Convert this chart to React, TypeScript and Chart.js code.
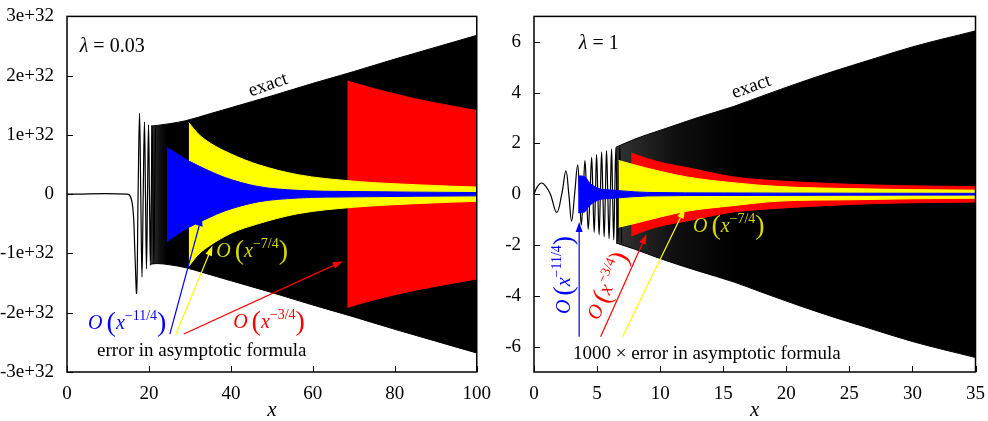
import React, { useEffect, useRef } from "react";
import { Chart, registerables } from "chart.js";
Chart.register(...registerables);

const SERIF = '"Liberation Serif", "Times New Roman", serif';
const E32 = 1e32;

// ---------------- Left panel (lambda = 0.03), y values in units of 1e32 ----------------
const leftXTicks = [0, 20, 40, 60, 80, 100];
const leftYTicks = [-3, -2, -1, 0, 1, 2, 3];
const leftYTickLabels = ["-3e+32", "-2e+32", "-1e+32", "0", "1e+32", "2e+32", "3e+32"];

const leftEarlyX = [0, 14.7, 15.6, 16.2, 16.55, 17.0, 17.35, 17.7, 18.0, 18.3, 18.6, 18.9, 19.15, 19.4, 19.65, 19.9, 20.12, 20.35, 20.57, 20.8, 21.0, 21.2, 21.4, 21.6];
const leftEarlyY = [0, 0, -0.06, -0.34, -0.95, -1.66, 0, 1.37, 0, -1.4, 0, 1.22, 0, -1.26, 0, 1.17, 0, -1.2, 0, 1.14, 0, -1.17, 0, 1.13];

const leftExactX = [20.5, 22, 25, 29, 35, 40, 50, 60, 70, 80, 90, 100];
const leftExactUpper = [1.15, 1.16, 1.19, 1.24, 1.36, 1.46, 1.66, 1.87, 2.07, 2.28, 2.48, 2.68];
const leftExactLower = [-1.18, -1.17, -1.19, -1.24, -1.36, -1.46, -1.66, -1.87, -2.07, -2.28, -2.48, -2.68];

const leftRedX = [68.4, 75, 85, 100];
const leftRedUpper = [1.91, 1.78, 1.61, 1.41];
const leftRedLower = [-1.91, -1.78, -1.62, -1.43];

const leftYellowX = [29.7, 32, 35, 40, 46.6, 56.3, 70, 85, 100];
const leftYellowUpper = [1.21, 1.02, 0.86, 0.68, 0.5, 0.33, 0.22, 0.16, 0.12];
const leftYellowLower = [-1.22, -1.02, -0.86, -0.66, -0.5, -0.33, -0.22, -0.16, -0.12];

const leftBlueX = [24.4, 26, 28, 30, 34.5, 38.6, 46.6, 56.3, 70, 85, 100];
const leftBlueUpper = [0.79, 0.72, 0.63, 0.55, 0.4, 0.28, 0.13, 0.065, 0.045, 0.035, 0.028];
const leftBlueLower = [-0.8, -0.72, -0.63, -0.55, -0.4, -0.28, -0.13, -0.065, -0.045, -0.035, -0.028];

// ---------------- Right panel (lambda = 1) ----------------
const rightXTicks = [0, 5, 10, 15, 20, 25, 30, 35];
const rightYTicks = [-6, -4, -2, 0, 2, 4, 6];
const rightYTickLabels = ["-6", "-4", "-2", "0", "2", "4", "6"];

const rightEarlyX = [0, 0.25, 0.6, 0.95, 1.3, 1.8, 2.2, 2.53, 2.76, 2.98, 3.22, 3.46, 3.61, 3.75, 3.9, 4.04, 4.17, 4.3, 4.44, 4.57, 4.67, 4.77, 4.87, 4.96, 5.06, 5.16, 5.26, 5.36, 5.46, 5.56, 5.66, 5.75, 5.85, 5.95, 6.05, 6.15, 6.23, 6.32, 6.4, 6.49, 6.57, 6.65, 6.72, 6.8, 6.88, 6.95];
const rightEarlyY = [0, 0.28, 0.44, 0.3, 0, -0.72, 0, 0.92, 0, -1.06, 0, 1.16, 0, -1.22, 0, 1.32, 0, -1.38, 0, 1.45, 0, -1.5, 0, 1.56, 0, -1.6, 0, 1.66, 0, -1.68, 0, 1.72, 0, -1.75, 0, 1.78, 0, -1.8, 0, 1.84, 0, -1.86, 0, 1.9, 0, -1.92];

const rightExactX = [6.5, 7.9, 9, 10.5, 13, 15.8, 18, 21.1, 24, 26.4, 30, 35];
const rightExactUpper = [1.85, 2.15, 2.35, 2.6, 3.02, 3.45, 3.85, 4.4, 4.88, 5.25, 5.8, 6.43];
const rightExactLower = [-1.92, -2.15, -2.35, -2.62, -3.02, -3.45, -3.85, -4.4, -4.88, -5.25, -5.8, -6.43];

const rightRedX = [7.7, 9, 10.5, 12.1, 14, 15.8, 19.5, 23, 27, 31, 35];
const rightRedUpper = [1.62, 1.4, 1.2, 1.05, 0.85, 0.68, 0.52, 0.43, 0.36, 0.32, 0.3];
const rightRedLower = [-1.65, -1.4, -1.2, -1.06, -0.86, -0.7, -0.55, -0.45, -0.37, -0.33, -0.31];

const rightYellowX = [6.7, 8, 10, 12.1, 15.8, 19.5, 25, 30, 35];
const rightYellowUpper = [1.33, 1.15, 0.9, 0.68, 0.45, 0.3, 0.22, 0.18, 0.16];
const rightYellowLower = [-1.3, -1.15, -0.9, -0.67, -0.45, -0.27, -0.22, -0.18, -0.16];

const rightBlueX = [3.5, 4.0, 4.4, 4.8, 5.3, 6, 7, 9, 15, 25, 35];
const rightBlueUpper = [0.72, 0.7, 0.45, 0.3, 0.2, 0.17, 0.13, 0.07, 0.05, 0.04, 0.035];
const rightBlueLower = [-0.73, -0.7, -0.45, -0.3, -0.2, -0.17, -0.13, -0.07, -0.05, -0.04, -0.035];

const BLUE = "#0000ff";
const RED = "#ff0000";
const YELLOW = "#ffff00";
const YELLOW_TEXT = "#d8d800";

type Part = { t: string; k: "rm" | "it" | "sup" | "big" | "gap" };

function bigO(exp: string): Part[] {
  return [
    { t: "O", k: "it" },
    { t: "4", k: "gap" },
    { t: "(", k: "big" },
    { t: "x", k: "it" },
    { t: exp, k: "sup" },
    { t: ")", k: "big" },
  ];
}

function fontOf(p: Part, size: number) {
  if (p.k === "it") return `italic ${size}px ${SERIF}`;
  if (p.k === "sup") return `${Math.round(size * 0.68)}px ${SERIF}`;
  if (p.k === "big") return `${Math.round(size * 1.4)}px ${SERIF}`;
  return `${size}px ${SERIF}`;
}

function drawRich(ctx: CanvasRenderingContext2D, parts: Part[], x: number, y: number, size: number, color: string, rotDeg: number, align: "left" | "center") {
  ctx.save();
  ctx.translate(x, y);
  ctx.rotate((rotDeg * Math.PI) / 180);
  ctx.fillStyle = color;
  ctx.textBaseline = "alphabetic";
  ctx.textAlign = "left";
  const widths = parts.map((p) => {
    if (p.k === "gap") return parseFloat(p.t);
    ctx.font = fontOf(p, size);
    return ctx.measureText(p.t).width;
  });
  const total = widths.reduce((a, b) => a + b, 0);
  let cx = align === "center" ? -total / 2 : 0;
  const base = size * 0.33;
  parts.forEach((p, i) => {
    if (p.k !== "gap") {
      ctx.font = fontOf(p, size);
      let dy = base;
      if (p.k === "sup") dy = base - size * 0.45;
      if (p.k === "big") dy = base + size * 0.1;
      ctx.fillText(p.t, cx, dy);
    }
    cx += widths[i];
  });
  ctx.restore();
}

type TextAnn = { x: number; y: number; parts: Part[]; color: string; rot: number; align: "left" | "center"; size: number };
type ArrowAnn = { x1: number; y1: number; x2: number; y2: number; color: string };

function band(xs: number[], up: number[], lo: number[], color: any, mul: number, lineColor: string) {
  return [
    {
      data: xs.map((x, i) => ({ x, y: up[i] * mul })),
      fill: "+1",
      backgroundColor: color,
      borderColor: lineColor,
      borderWidth: 1,
      pointRadius: 0,
      cubicInterpolationMode: "monotone",
    },
    {
      data: xs.map((x, i) => ({ x, y: lo[i] * mul })),
      fill: false,
      backgroundColor: color,
      borderColor: lineColor,
      borderWidth: 1,
      pointRadius: 0,
      cubicInterpolationMode: "monotone",
    },
  ];
}

function makeOverlay(texts: TextAnn[], arrows: ArrowAnn[], mul: number) {
  return {
    id: "overlay",
    afterDraw(chart: any) {
      const ctx: CanvasRenderingContext2D = chart.ctx;
      const { left, right, top, bottom } = chart.chartArea;
      const xs = chart.scales.x;
      const ys = chart.scales.y;
      ctx.save();
      ctx.strokeStyle = "#000";
      ctx.lineWidth = 1.5;
      ctx.strokeRect(left, top, right - left, bottom - top);
      ctx.lineWidth = 1;
      ys.ticks.forEach((t: any) => {
        const py = Math.round(ys.getPixelForValue(t.value)) + 0.5;
        ctx.beginPath();
        ctx.moveTo(left, py);
        ctx.lineTo(left + 6, py);
        ctx.stroke();
      });
      xs.ticks.forEach((t: any) => {
        const px = Math.round(xs.getPixelForValue(t.value)) + 0.5;
        ctx.beginPath();
        ctx.moveTo(px, bottom);
        ctx.lineTo(px, bottom - 6);
        ctx.stroke();
      });
      ctx.fillStyle = "#000";
      ctx.font = `italic 21px ${SERIF}`;
      ctx.textAlign = "center";
      ctx.textBaseline = "middle";
      ctx.fillText("x", (left + right) / 2, 410);
      arrows.forEach((a) => {
        const x1 = xs.getPixelForValue(a.x1);
        const y1 = ys.getPixelForValue(a.y1 * mul);
        const x2 = xs.getPixelForValue(a.x2);
        const y2 = ys.getPixelForValue(a.y2 * mul);
        const ang = Math.atan2(y2 - y1, x2 - x1);
        const hl = 10;
        const hw = 3.5;
        const bx = x2 - hl * Math.cos(ang);
        const by = y2 - hl * Math.sin(ang);
        ctx.strokeStyle = a.color;
        ctx.fillStyle = a.color;
        ctx.lineWidth = 1.2;
        ctx.beginPath();
        ctx.moveTo(x1, y1);
        ctx.lineTo(bx, by);
        ctx.stroke();
        ctx.beginPath();
        ctx.moveTo(x2, y2);
        ctx.lineTo(bx + hw * Math.sin(ang), by - hw * Math.cos(ang));
        ctx.lineTo(bx - hw * Math.sin(ang), by + hw * Math.cos(ang));
        ctx.closePath();
        ctx.fill();
      });
      texts.forEach((t) => {
        drawRich(ctx, t.parts, xs.getPixelForValue(t.x), ys.getPixelForValue(t.y * mul), t.size, t.color, t.rot, t.align);
      });
      ctx.restore();
    },
  };
}

function makeConfig(opts: {
  xMax: number; xTicks: number[]; yLim: number; yTicks: number[]; yLabels: string[]; mul: number;
  yWidth: number; rightPad: number; datasets: any[]; texts: TextAnn[]; arrows: ArrowAnn[];
}): any {
  const { mul } = opts;
  return {
    type: "line",
    data: { datasets: opts.datasets },
    options: {
      animation: false,
      responsive: false,
      events: [],
      layout: { padding: { left: 0, right: opts.rightPad, top: 14, bottom: 0 } },
      plugins: {
        legend: { display: false },
        tooltip: { enabled: false },
        filler: { propagate: false, drawTime: "beforeDatasetDraw" },
      },
      scales: {
        x: {
          type: "linear",
          min: 0,
          max: opts.xMax,
          grid: { display: false },
          border: { display: false },
          afterBuildTicks: (s: any) => { s.ticks = opts.xTicks.map((v) => ({ value: v })); },
          afterFit: (s: any) => { s.height = 49; },
          ticks: {
            padding: 3,
            maxRotation: 0,
            autoSkip: false,
            color: "#000",
            font: { family: SERIF, size: 19 },
            callback: (v: any, i: number) => String(opts.xTicks[i]),
          },
        },
        y: {
          type: "linear",
          min: -opts.yLim * mul,
          max: opts.yLim * mul,
          grid: { display: false },
          border: { display: false },
          afterBuildTicks: (s: any) => { s.ticks = opts.yTicks.map((v) => ({ value: v * mul })); },
          afterFit: (s: any) => { s.width = opts.yWidth; },
          ticks: {
            padding: 5,
            autoSkip: false,
            color: "#000",
            font: { family: SERIF, size: 19 },
            callback: (v: any, i: number) => opts.yLabels[i],
          },
        },
      },
    },
    plugins: [makeOverlay(opts.texts, opts.arrows, mul)],
  };
}

function line(xs: number[], ys: number[], mul: number) {
  return {
    data: xs.map((x, i) => ({ x, y: ys[i] * mul })),
    fill: false,
    borderColor: "#000",
    borderWidth: 1.2,
    pointRadius: 0,
    tension: 0.4,
  };
}

// Horizontal darkening to mimic the dense striped oscillations at the start of each envelope
function fadeFill(x0: number, x1: number, a0: number) {
  return (c: any) => {
    const chart = c.chart;
    if (!chart.chartArea || !chart.scales.x) return "#000";
    const xs = chart.scales.x;
    const g = chart.ctx.createLinearGradient(xs.getPixelForValue(x0), 0, xs.getPixelForValue(x1), 0);
    g.addColorStop(0, `rgba(0,0,0,${a0})`);
    g.addColorStop(0.5, `rgba(0,0,0,${(a0 + 1) / 2 + 0.04})`);
    g.addColorStop(1, "rgba(0,0,0,1)");
    return g;
  };
}

export default function App() {
  const leftRef = useRef<HTMLCanvasElement>(null);
  const rightRef = useRef<HTMLCanvasElement>(null);

  useEffect(() => {
    const leftDatasets = [
      ...band(leftBlueX, leftBlueUpper, leftBlueLower, BLUE, E32, BLUE),
      ...band(leftYellowX, leftYellowUpper, leftYellowLower, YELLOW, E32, YELLOW),
      ...band(leftRedX, leftRedUpper, leftRedLower, RED, E32, RED),
      ...band(leftExactX, leftExactUpper, leftExactLower, fadeFill(20.5, 24.5, 0.78), E32, "#000"),
      line(leftEarlyX, leftEarlyY, E32),
    ];
    const rightDatasets = [
      ...band(rightBlueX, rightBlueUpper, rightBlueLower, BLUE, 1, BLUE),
      ...band(rightYellowX, rightYellowUpper, rightYellowLower, YELLOW, 1, YELLOW),
      ...band(rightRedX, rightRedUpper, rightRedLower, RED, 1, RED),
      ...band(rightExactX, rightExactUpper, rightExactLower, fadeFill(6.5, 16, 0.8), 1, "#000"),
      line(rightEarlyX, rightEarlyY, 1),
    ];

    const leftTexts: TextAnn[] = [
      { x: 3.1, y: 2.51, parts: [{ t: "λ", k: "it" }, { t: " = 0.03", k: "rm" }], color: "#000", rot: 0, align: "left", size: 20 },
      { x: 49, y: 1.86, parts: [{ t: "exact", k: "rm" }], color: "#000", rot: -19, align: "center", size: 19 },
      { x: 14.7, y: -2.16, parts: bigO("−11/4"), color: BLUE, rot: 0, align: "center", size: 20 },
      { x: 49.3, y: -2.14, parts: bigO("−3/4"), color: RED, rot: 0, align: "center", size: 20 },
      { x: 45.2, y: -0.95, parts: bigO("−7/4"), color: YELLOW_TEXT, rot: 0, align: "center", size: 20 },
      { x: 32.9, y: -2.63, parts: [{ t: "error in asymptotic formula", k: "rm" }], color: "#000", rot: 0, align: "center", size: 19 },
    ];
    const leftArrows: ArrowAnn[] = [
      { x1: 25.1, y1: -2.36, x2: 32.9, y2: -0.37, color: BLUE },
      { x1: 26.6, y1: -2.36, x2: 35.5, y2: -0.87, color: YELLOW },
      { x1: 28.5, y1: -2.36, x2: 67.3, y2: -1.13, color: RED },
    ];
    const rightTexts: TextAnn[] = [
      { x: 3.55, y: 5.96, parts: [{ t: "λ", k: "it" }, { t: " = 1", k: "rm" }], color: "#000", rot: 0, align: "left", size: 20 },
      { x: 17.2, y: 4.27, parts: [{ t: "exact", k: "rm" }], color: "#000", rot: -19, align: "center", size: 19 },
      { x: 2.3, y: -3.18, parts: bigO("−11/4"), color: BLUE, rot: -90, align: "center", size: 20 },
      { x: 5.78, y: -3.6, parts: bigO("−3/4"), color: RED, rot: -65.9, align: "center", size: 20 },
      { x: 12.6, y: -1.22, parts: bigO("−7/4"), color: YELLOW_TEXT, rot: 0, align: "left", size: 20 },
      { x: 13.7, y: -6.24, parts: [{ t: "1000 × error in asymptotic formula", k: "rm" }], color: "#000", rot: 0, align: "center", size: 19 },
    ];
    const rightArrows: ArrowAnn[] = [
      { x1: 3.58, y1: -5.61, x2: 3.58, y2: -1.09, color: BLUE },
      { x1: 5.28, y1: -5.61, x2: 8.92, y2: -1.58, color: RED },
      { x1: 7.02, y1: -5.61, x2: 11.96, y2: -0.56, color: YELLOW },
    ];

    const c1 = new Chart(leftRef.current as HTMLCanvasElement, makeConfig({
      xMax: 100, xTicks: leftXTicks, yLim: 3, yTicks: leftYTicks, yLabels: leftYTickLabels, mul: E32,
      yWidth: 67, rightPad: 13, datasets: leftDatasets, texts: leftTexts, arrows: leftArrows,
    }));
    const c2 = new Chart(rightRef.current as HTMLCanvasElement, makeConfig({
      xMax: 35, xTicks: rightXTicks, yLim: 7, yTicks: rightYTicks, yLabels: rightYTickLabels, mul: 1,
      yWidth: 40, rightPad: 12, datasets: rightDatasets, texts: rightTexts, arrows: rightArrows,
    }));
    return () => {
      c1.destroy();
      c2.destroy();
    };
  }, []);

  return (
    <div style={{ position: "fixed", left: 0, top: 0, width: 988, height: 421, background: "#fff" }}>
      <canvas ref={leftRef} width={494} height={421} style={{ position: "absolute", left: 0, top: 0 }} />
      <canvas ref={rightRef} width={494} height={421} style={{ position: "absolute", left: 494, top: 0 }} />
    </div>
  );
}
